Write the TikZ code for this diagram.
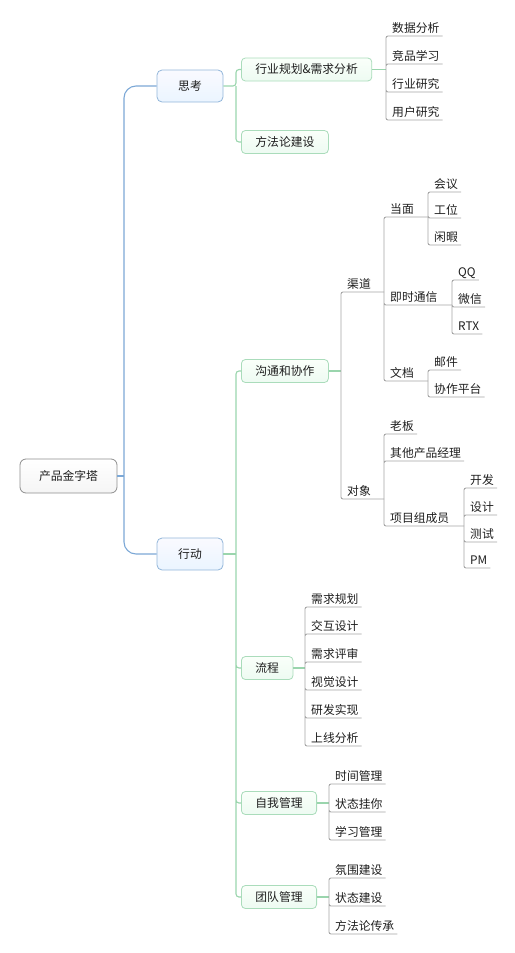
\documentclass[tikz,border=0pt]{standalone}
\usepackage{fontspec}
\newfontfamily\cjk{Noto Sans CJK SC}
\usetikzlibrary{positioning}
\definecolor{inkc}{HTML}{1E1E1E}
\definecolor{rootdraw}{HTML}{8E8E8E}
\definecolor{bluedraw}{HTML}{92B6DA}
\definecolor{blueline}{HTML}{7CA8D6}
\definecolor{greendraw}{HTML}{AADCBB}
\definecolor{greenline}{HTML}{9AD5AD}
\definecolor{leafline}{HTML}{A4A4A4}
\tikzset{
  mmfont/.style     = {font=\cjk\fontsize{11.8}{14}\selectfont, text=inkc},
  root box/.style   = {mmfont, draw=rootdraw, line width=0.8pt, rounded corners=6pt,
                       top color=white, bottom color=black!4,
                       minimum width=97pt, minimum height=34pt},
  topic/.style      = {mmfont, draw=bluedraw, line width=0.8pt, rounded corners=5pt,
                       top color=blue!2, bottom color=blue!50!cyan!8,
                       minimum width=66pt, minimum height=32pt},
  subtopic/.style   = {mmfont, draw=greendraw, line width=0.8pt, rounded corners=4pt,
                       top color=green!2, bottom color=green!50!teal!7,
                       inner xsep=14pt, minimum height=23pt, anchor=west},
  leaf/.style       = {mmfont, inner xsep=3pt, inner ysep=1.5pt,
                       text height=9pt, text depth=2pt, anchor=south west},
  blue link/.style  = {draw=blueline, line width=1.1pt},
  green link/.style = {draw=greenline, line width=1.1pt, rounded corners=3pt},
  leaf link/.style  = {draw=leafline, line width=0.9pt, rounded corners=2pt},
}

\begin{document}
\begin{tikzpicture}[x=1pt,y=-1pt]
  \useasboundingbox (0,0) rectangle (514,953);
  % root and main topics
  \node[root box] (root) at (68.5,476) {产品金字塔};
  \node[topic] (sikao) at (190,86) {思考};
  \node[topic] (xingdong) at (190,554) {行动};
  \coordinate (rj) at (124,476);
  \draw[blue link] (root.east) -- (rj);
  \draw[blue link, rounded corners=12pt] (rj) |- (sikao.west) (rj) |- (xingdong.west);

  % 思考
  \node[subtopic] (hygh) at (241,69.5) {行业规划\&需求分析};
  \node[subtopic] (ffl) at (241,142) {方法论建设};
  \coordinate (sj) at (236,86);
  \draw[green link] (sikao.east) -- (sj) |- (hygh.west) (sj) |- (ffl.west);
  \coordinate (hj) at (386,69.5);
  \draw[green link] (hygh.east) -- (hj);
  \node[leaf] (sjfx) at (389,36) {数据分析};
  \node[leaf] (jpxx) at (389,64) {竞品学习};
  \node[leaf] (hyyj) at (389,92) {行业研究};
  \node[leaf] (yhyj) at (389,120) {用户研究};
  \draw[leaf link] (hj) |- (sjfx.south east) (hj) |- (jpxx.south east)
                   (hj) |- (hyyj.south east) (hj) |- (yhyj.south east);

  % 行动
  \node[subtopic] (gtxz) at (241,371) {沟通和协作};
  \node[subtopic] (liucheng) at (241,668) {流程};
  \node[subtopic] (zwgl) at (241,803) {自我管理};
  \node[subtopic] (tdgl) at (241,897) {团队管理};
  \coordinate (xj) at (236,554);
  \draw[green link] (xingdong.east) -- (xj);
  \draw[green link] (xj) |- (gtxz.west) (xj) |- (liucheng.west)
                    (xj) |- (zwgl.west) (xj) |- (tdgl.west);

  % 沟通和协作
  \coordinate (gj) at (341,371);
  \draw[green link] (gtxz.east) -- (gj);
  \node[leaf] (qudao) at (344,292) {渠道};
  \node[leaf] (duixiang) at (344,499) {对象};
  \coordinate (qj) at (384,292);
  \coordinate (dxj) at (384,499);
  \draw[leaf link] (gj) |- (qudao.south east) -- (qj) (gj) |- (duixiang.south east) -- (dxj);

  \node[leaf] (dangmian) at (387,217) {当面};
  \node[leaf] (jishi) at (387,305) {即时通信};
  \node[leaf] (wendang) at (387,381) {文档};
  \coordinate (dj) at (428,217);
  \coordinate (jj) at (452,305);
  \coordinate (wj) at (428,381);
  \draw[leaf link] (qj) |- (dangmian.south east) -- (dj) (qj) |- (jishi.south east) -- (jj)
                   (qj) |- (wendang.south east) -- (wj);

  \node[leaf] (huiyi) at (431,192) {会议};
  \node[leaf] (gongwei) at (431,218) {工位};
  \node[leaf] (xianxia) at (431,245) {闲暇};
  \draw[leaf link] (dj) |- (huiyi.south east) (dj) |- (gongwei.south east) (dj) |- (xianxia.south east);

  \node[leaf] (qq) at (455,280) {QQ};
  \node[leaf] (weixin) at (455,307) {微信};
  \node[leaf] (rtx) at (455,334) {RTX};
  \draw[leaf link] (jj) |- (qq.south east) (jj) |- (weixin.south east) (jj) |- (rtx.south east);

  \node[leaf] (youjian) at (431,370) {邮件};
  \node[leaf] (xzpt) at (431,397) {协作平台};
  \draw[leaf link] (wj) |- (youjian.south east) (wj) |- (xzpt.south east);

  \node[leaf] (laoban) at (387,434) {老板};
  \node[leaf] (qtcp) at (387,461) {其他产品经理};
  \node[leaf] (xmz) at (387,526) {项目组成员};
  \coordinate (mj) at (464,526);
  \draw[leaf link] (dxj) |- (laoban.south east) (dxj) |- (qtcp.south east)
                   (dxj) |- (xmz.south east) -- (mj);

  \node[leaf] (kaifa) at (467,488) {开发};
  \node[leaf] (sheji) at (467,515) {设计};
  \node[leaf] (ceshi) at (467,542) {测试};
  \node[leaf] (pm) at (467,568) {PM};
  \draw[leaf link] (mj) |- (kaifa.south east) (mj) |- (sheji.south east)
                   (mj) |- (ceshi.south east) (mj) |- (pm.south east);

  % 流程
  \coordinate (lj) at (305,668);
  \draw[green link] (liucheng.east) -- (lj);
  \node[leaf] (xqgh) at (308,607) {需求规划};
  \node[leaf] (jhsj) at (308,634) {交互设计};
  \node[leaf] (xqps) at (308,662) {需求评审};
  \node[leaf] (sjsj) at (308,690) {视觉设计};
  \node[leaf] (yfsx) at (308,718) {研发实现};
  \node[leaf] (sxfx) at (308,746) {上线分析};
  \draw[leaf link] (lj) |- (xqgh.south east) (lj) |- (jhsj.south east) (lj) |- (xqps.south east)
                   (lj) |- (sjsj.south east) (lj) |- (yfsx.south east) (lj) |- (sxfx.south east);

  % 自我管理
  \coordinate (zj) at (329,803);
  \draw[green link] (zwgl.east) -- (zj);
  \node[leaf] (sjgl) at (332,784) {时间管理};
  \node[leaf] (ztgn) at (332,812) {状态挂你};
  \node[leaf] (xxgl) at (332,840) {学习管理};
  \draw[leaf link] (zj) |- (sjgl.south east) (zj) |- (ztgn.south east) (zj) |- (xxgl.south east);

  % 团队管理
  \coordinate (tj) at (329,897);
  \draw[green link] (tdgl.east) -- (tj);
  \node[leaf] (fwjs) at (332,878) {氛围建设};
  \node[leaf] (ztjs) at (332,906) {状态建设};
  \node[leaf] (fflcc) at (332,934) {方法论传承};
  \draw[leaf link] (tj) |- (fwjs.south east) (tj) |- (ztjs.south east) (tj) |- (fflcc.south east);
\end{tikzpicture}
\end{document}
